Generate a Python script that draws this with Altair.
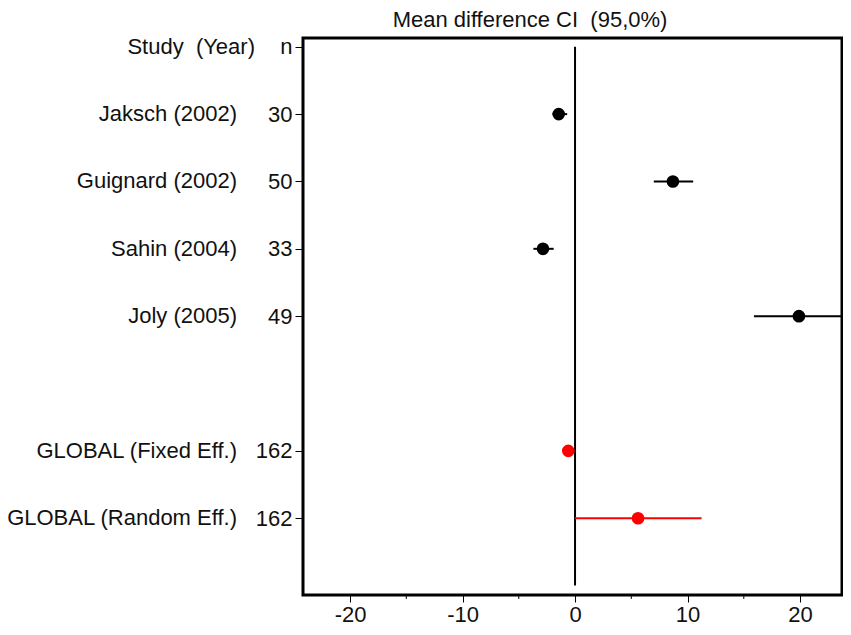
import altair as alt
import pandas as pd

# ---- data ----
studies = ["Jaksch (2002)", "Guignard (2002)", "Sahin (2004)", "Joly (2005)",
           "GLOBAL (Fixed Eff.)", "GLOBAL (Random Eff.)"]
n_values = ["30", "50", "33", "49", "162", "162"]
rows = [1, 2, 3, 4, 6, 7]
means = [-1.45, 8.7, -2.85, 19.9, -0.6, 5.6]
lower = [-2.0, 7.0, -3.7, 15.9, -0.9, 0.0]
upper = [-0.7, 10.5, -1.9, 24.0, -0.3, 11.25]
kind = ["study", "study", "study", "study", "global", "global"]
header_name = "Study\u00a0\u00a0(Year)"
header_n = "n"
title_text = "Mean difference CI\u00a0\u00a0(95,0%)"
x_ticks = [-20, -10, 0, 10, 20]
x_minor = [-15, -5, 5, 15]
x_domain = [-24.18, 23.73]
y_domain = [-0.13, 8.14]

df = pd.DataFrame({"study": studies, "n": n_values, "row": rows, "mean": means,
                   "lo": lower, "hi": upper, "kind": kind})

W, H = 539, 557
FONT = "Liberation Sans"
FS = 22

xs = alt.Scale(domain=x_domain, nice=False, zero=False)
ys = alt.Scale(domain=y_domain, nice=False, zero=False, reverse=True)
color = alt.Color("kind:N", scale=alt.Scale(domain=["study", "global"], range=["#000000", "#ff0000"]), legend=None)

lab = [""] * 8
lab[0] = header_n
for r, nv in zip(rows, n_values):
    lab[r] = nv
label_expr = "[" + ",".join(f"'{v}'" for v in lab) + "][round(datum.value)]"

base = alt.Chart(df)

ci = base.mark_rule(strokeWidth=2).encode(
    x=alt.X("lo:Q", scale=xs, axis=alt.Axis(values=x_ticks, title=None, grid=False, domain=False,
                                             tickSize=7, tickColor="black", labelFont=FONT,
                                             labelFontSize=FS, labelColor="#111", labelPadding=2,
                                             labelFlush=False, labelExpr="'' + datum.value")),
    x2="hi:Q",
    y=alt.Y("row:Q", scale=ys, axis=alt.Axis(values=[0] + rows, labelExpr=label_expr, title=None,
                                              grid=False, domain=False, tickSize=8, tickColor="black",
                                              labelFont=FONT, labelFontSize=FS, labelColor="#111",
                                              labelPadding=3, labelOverlap=False)),
    color=color,
)

pts = base.mark_point(filled=True, shape="circle", size=160, opacity=1).encode(
    x=alt.X("mean:Q", scale=xs), y=alt.Y("row:Q", scale=ys), color=color)

zero = alt.Chart(pd.DataFrame({"x": [0], "y1": [0], "y2": [8]})).mark_rule(
    color="black", strokeWidth=2).encode(
    x=alt.X("x:Q", scale=xs), y=alt.Y("y1:Q", scale=ys), y2="y2:Q")

names = base.mark_text(align="right", baseline="middle", font=FONT, fontSize=FS, color="#111").encode(
    x=alt.value(-66), y=alt.Y("row:Q", scale=ys), text="study:N")

header = alt.Chart(pd.DataFrame({"t": [header_name], "row": [0]})).mark_text(
    align="right", baseline="middle", font=FONT, fontSize=FS, color="#111").encode(
    x=alt.value(-48), y=alt.Y("row:Q", scale=ys), text="t:N")

title = alt.Chart(pd.DataFrame({"t": [title_text]})).mark_text(
    align="center", baseline="middle", font=FONT, fontSize=FS, color="#111").encode(
    x=alt.value(227), y=alt.value(-18), text="t:N")

minor = alt.Chart(pd.DataFrame({"x": x_minor})).mark_rule(color="black", strokeWidth=1).encode(
    x=alt.X("x:Q", scale=xs), y=alt.value(H), y2=alt.value(H + 4))

chart = alt.layer(zero, ci, pts, names, header, title, minor).properties(
    width=W, height=H,
    background="white",
    autosize=alt.AutoSizeParams(type="none"),
    padding={"left": 295, "top": 30, "right": 1, "bottom": 40},
).configure_view(stroke="black", strokeWidth=3)

chart.save("out.html", embed_options={"renderer": "svg", "actions": False})
